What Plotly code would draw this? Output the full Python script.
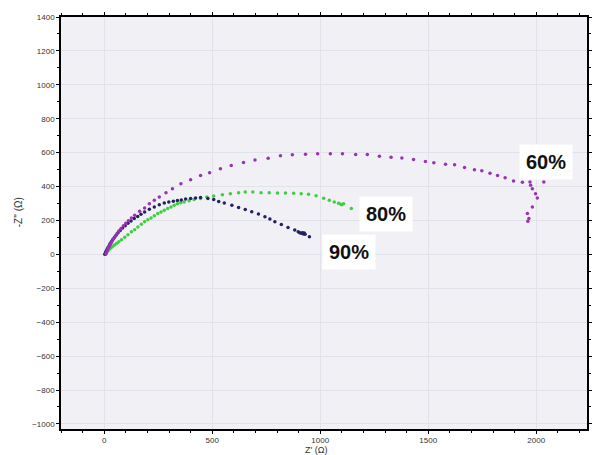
import plotly.graph_objects as go

# 60% series (purple)
x60 = [8, 10, 13, 17, 21, 26, 31, 37, 44, 51, 59, 68, 78, 89, 100, 112, 126,
       141, 164, 187, 209, 232, 255, 286, 316, 355, 400, 446, 488, 538, 588, 645,
       698, 759, 816, 871, 932, 988, 1047, 1103, 1164, 1218, 1274, 1328, 1378,
       1432, 1487, 1526, 1580, 1622, 1668, 1714, 1748, 1786, 1821, 1856, 1895,
       1936, 1971, 2035, 1974, 1982, 1997, 2005, 1982, 1959, 1966, 1961]
y60 = [2, 10, 20, 31, 42, 54, 66, 79, 93, 107, 122, 138, 153, 169, 184, 199, 215,
       231, 254, 274, 299, 319, 338, 364, 387, 417, 440, 465, 481, 505, 524, 542,
       557, 567, 581, 587, 591, 593, 593, 593, 589, 589, 579, 573, 569,
       559, 548, 540, 532, 528, 512, 499, 493, 479, 465, 452, 432,
       425, 427, 427, 407, 387, 358, 333, 280, 241, 211, 195]

# 80% series (green)
x80 = [3, 7, 12, 18, 25, 32, 40, 49, 58, 68, 80, 95, 110, 126, 141, 156, 172,
       187, 202, 217, 232, 248, 263, 278, 294, 309, 324, 339, 354, 370, 393, 416,
       446, 475, 507, 547, 584, 622, 653, 688, 726, 764, 802, 839, 877, 912, 946,
       981, 1016, 1042, 1065, 1085, 1095, 1100, 1108, 1144]
y80 = [1, 7, 14, 22, 31, 39, 48, 57, 66, 75, 86, 101, 115, 133, 145, 162, 177,
       192, 204, 215, 228, 241, 250, 260, 270, 280, 290, 299, 304, 309, 316, 323,
       329, 338, 344, 352, 358, 364, 368, 368, 364, 364, 362, 362, 360, 358, 354,
       346, 331, 319, 309, 302, 296, 292, 298, 270]

# 90% series (navy)
x90 = [3, 6, 9, 13, 17, 22, 27, 33, 40, 47, 55, 64, 74, 85, 97, 110, 124, 139,
       155, 170, 187, 209, 232, 255, 278, 299, 320, 339, 357, 377, 400, 423, 446,
       480, 507, 530, 556, 591, 622, 653, 683, 714, 744, 767, 790, 820, 851, 882,
       898, 905, 912, 918, 922, 926, 930, 950]
y90 = [1, 9, 18, 28, 39, 50, 62, 74, 87, 100, 113, 127, 141, 155, 169, 183, 197,
       211, 224, 237, 250, 266, 280, 293, 303, 309, 313, 318, 321, 326, 330, 333,
       336, 330, 323, 312, 303, 290, 277, 265, 252, 238, 222, 208, 193, 176, 159,
       143, 133, 128, 124, 128, 120, 126, 118, 104]

labels = ["60%", "80%", "90%"]
label_x = [2043, 1305, 1131]
label_y = [546, 241, 12]

x_ticks = [0, 500, 1000, 1500, 2000]
y_ticks = [-1000, -800, -600, -400, -200, 0, 200, 400, 600, 800, 1000, 1200, 1400]

fig = go.Figure()
fig.add_trace(go.Scatter(x=x80, y=y80, mode="markers", name="80%",
                         marker=dict(size=3.5, color="#3fcf3f")))
fig.add_trace(go.Scatter(x=x90, y=y90, mode="markers", name="90%",
                         marker=dict(size=3.5, color="#222262")))
fig.add_trace(go.Scatter(x=x60, y=y60, mode="markers", name="60%",
                         marker=dict(size=3.5, color="#9a32b4")))

for t, lx, ly in zip(labels, label_x, label_y):
    fig.add_annotation(x=lx, y=ly, text="<b>%s</b>" % t, showarrow=False,
                       font=dict(size=20, color="#111", family="Liberation Sans, Arial"),
                       bgcolor="white", borderpad=6)

fig.add_annotation(text="Z' (\u03a9)", xref="paper", yref="paper", x=0.484, y=1.0,
                   yshift=-(412 + 21), showarrow=False, yanchor="middle",
                   font=dict(size=9, color="#333", family="Liberation Sans, Arial"))
fig.add_annotation(text="-Z'' (\u03a9)", xref="paper", yref="paper", x=-0.081, y=0.527,
                   showarrow=False, textangle=-90, xanchor="center", yanchor="middle",
                   font=dict(size=10, color="#333", family="Liberation Sans, Arial"))

axis_common = dict(showline=True, linecolor="black", linewidth=1.5, mirror="allticks",
                   ticks="outside", ticklen=3, tickcolor="black", tickwidth=1,
                   showgrid=True, gridcolor="#e2e2ea", gridwidth=1, zeroline=False,
                   tickfont=dict(size=8, color="#333", family="Liberation Sans, Arial"))

fig.update_xaxes(range=[-200, 2235], tickvals=x_ticks,
                 minor=dict(dtick=100, tick0=0, ticklen=2, ticks="outside", tickcolor="black", showgrid=False),
                 **axis_common)
fig.update_yaxes(range=[-1030, 1400], tickvals=y_ticks,
                 minor=dict(dtick=100, tick0=0, ticklen=2, ticks="outside", tickcolor="black", showgrid=False),
                 **axis_common)

fig.update_layout(width=594, height=455, margin=dict(l=61, r=2, t=17, b=26),
                  paper_bgcolor="white", plot_bgcolor="#f0f0f5", showlegend=False)

fig.write_html("out.html")
